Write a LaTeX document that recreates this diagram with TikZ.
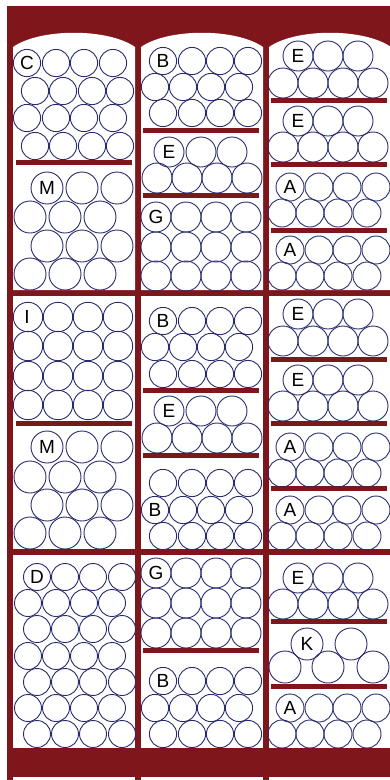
\documentclass[tikz,border=0pt]{standalone}
\usepackage{fontspec}
\setmainfont{Liberation Sans}
\definecolor{rackred}{RGB}{126,22,28}
\definecolor{ballblue}{RGB}{40,44,110}

\begin{document}
\begin{tikzpicture}[x=1pt, y=-1pt]
    \tikzset{
        frame/.style={fill=rackred},
        panel/.style={fill=white},
        shelfbar/.style={fill=rackred},
        ball/.style={draw=ballblue, line width=0.9pt},
        tag/.style={font=\fontsize{19}{19}\selectfont, inner sep=0pt, text=black}
    }
    \useasboundingbox (0,0) rectangle (390,780);
    \clip (0,0) rectangle (390,780);

    % Frame
    \fill[frame] (7,6) rectangle (400,777);
    \foreach \x in {7,135,263} \fill[frame] (\x,776) rectangle ++(5.5,4);

    % Panels
    \foreach \x in {13,141,269} {
        \fill[panel] (\x,290) -- (\x,47) .. controls (\x+27,28) and (\x+95,28) .. (\x+122,47) -- (\x+122,290) -- cycle;
        \fill[panel] (\x,296) rectangle (\x+122,549);
        \fill[panel] (\x,555) rectangle (\x+122,748);
    }

    % Shelves
    \foreach \x/\y in {16/160, 16/421,
                       143/128, 143/193, 143/388, 143/453, 143/648,
                       271/98, 271/162, 271/228, 271/357, 271/421, 271/486, 271/619, 271/684}
        \fill[shelfbar] (\x,\y) rectangle ++(116,5);

    % Column 1
    \foreach \y in {63,118} \foreach \x in {27,56,84,113} \draw[ball] (\x,\y) circle (13.6pt);
    \foreach \y in {91,146} \foreach \x in {35,63,92,120} \draw[ball] (\x,\y) circle (13.6pt);
    \foreach \y in {188,246,447,505} \foreach \x in {47,82,117} \draw[ball] (\x,\y) circle (16pt);
    \foreach \y in {217,274,477,533} \foreach \x in {30,65,100} \draw[ball] (\x,\y) circle (16pt);
    \foreach \y in {317,346,376,405} \foreach \x in {28,58,88,118} \draw[ball] (\x,\y) circle (14.7pt);
    \foreach \y in {577,629,682,734} \foreach \x in {37,65,93,122} \draw[ball] (\x,\y) circle (13.5pt);
    \foreach \y in {603,656,708} \foreach \x in {28,56,84,112} \draw[ball] (\x,\y) circle (13.5pt);

    % Column 2
    \foreach \y in {61,113,321,374,483,536,681,734} \foreach \x in {163,192,220,248} \draw[ball] (\x,\y) circle (13.6pt);
    \foreach \y in {87,347,510,708} \foreach \x in {155,183,211,239} \draw[ball] (\x,\y) circle (13.6pt);
    \foreach \y in {152,411} \foreach \x in {169,201,232} \draw[ball] (\x,\y) circle (15pt);
    \foreach \y in {178,438} \foreach \x in {157,187,217,247} \draw[ball] (\x,\y) circle (15pt);
    \foreach \y in {217,247,276,573,603,633} \foreach \x in {156,186,216,246} \draw[ball] (\x,\y) circle (15pt);

    % Column 3
    \foreach \y in {56,121,314,380,578} \foreach \x in {298,328,358} \draw[ball] (\x,\y) circle (15pt);
    \foreach \y in {83,147,341,406,604} \foreach \x in {283,313,343,373} \draw[ball] (\x,\y) circle (15pt);
    \foreach \y in {187,250,447,510,708} \foreach \x in {290,319,347,376} \draw[ball] (\x,\y) circle (14pt);
    \foreach \y in {213,276,473,536,734} \foreach \x in {282,310,338,367} \draw[ball] (\x,\y) circle (14pt);
    \foreach \x in {307,351} \draw[ball] (\x,644) circle (16pt);
    \foreach \x in {285,328,373} \draw[ball] (\x,667) circle (16pt);

    % Labels
    \foreach \x/\y/\t [count=\i] in {27/63/C, 47/188/M, 27/317/I, 47/447/M, 37/577/D,
                                     163/61/B, 169/152/E, 156/217/G, 163/321/B, 169/411/E, 155/510/B, 156/573/G, 163/681/B,
                                     298/56/E, 298/121/E, 290/187/A, 290/250/A, 298/314/E, 298/380/E,
                                     290/447/A, 290/510/A, 298/578/E, 307/644/K, 290/708/A}
        \node[tag] (tag\i) at (\x,\y) {\t};
\end{tikzpicture}
\end{document}
